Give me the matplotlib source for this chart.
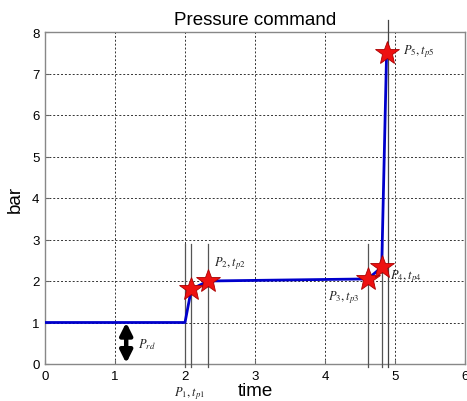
import matplotlib
matplotlib.use("Agg")
import matplotlib.pyplot as plt

# data
curve_t = [0.0, 2.0, 2.09, 2.33, 4.61, 4.81, 4.88]
curve_p = [1.0, 1.0, 1.80, 2.00, 2.05, 2.33, 7.50]
star_t = [2.09, 2.33, 4.61, 4.81, 4.88]
star_p = [1.80, 2.00, 2.05, 2.33, 7.50]
vline_t = [2.0, 2.09, 2.33, 4.61, 4.81]
vline_top = 2.88
tall_vline_t = 4.9
labels = [r'$P_1, t_{p1}$', r'$P_2, t_{p2}$', r'$P_3, t_{p3}$', r'$P_4, t_{p4}$', r'$P_5, t_{p5}$']
label_xy = [(1.85, -0.68), (2.42, 2.45), (4.05, 1.62), (4.93, 2.12), (5.12, 7.55)]
xticks = [0, 1, 2, 3, 4, 5, 6]
yticks = [0, 1, 2, 3, 4, 5, 6, 7, 8]

plt.rcParams['mathtext.fontset'] = 'stix'
plt.rcParams['font.family'] = ['Liberation Sans', 'DejaVu Sans']

fig = plt.figure(figsize=(4.67, 4.02), dpi=100)
ax = fig.add_axes([45/467, (402-365)/402, 420/467, 332/402])
ax.set_xlim(0, 6)
ax.set_ylim(0, 8)
ax.set_xticks(xticks)
ax.set_yticks(yticks)
ax.grid(True, linestyle=(0, (2, 2)), color='#333333', linewidth=0.7)
ax.tick_params(direction='in', length=3, color='#666666', labelsize=9.5, pad=4)
for s in ax.spines.values():
    s.set_color('#888888')
    s.set_linewidth(1.0)

for t in vline_t:
    ax.plot([t, t], [-0.08, vline_top], color='#555555', lw=0.9, clip_on=False, zorder=3)
ax.plot([tall_vline_t, tall_vline_t], [-0.08, 8.3], color='#444444', lw=0.9, clip_on=False, zorder=3)

ax.plot(curve_t, curve_p, color='#0000cc', lw=2.0, zorder=4)
ax.plot(star_t, star_p, linestyle='none', marker='*', markersize=18,
        markerfacecolor='#ee1111', markeredgecolor='#aa0000', markeredgewidth=0.6, zorder=5)

for lab, (x, y) in zip(labels, label_xy):
    ax.text(x, y, lab, fontsize=9, color='#222222', ha='left', va='center', clip_on=False)

ax.annotate('', xy=(1.16, 0.02), xytext=(1.16, 1.0),
            arrowprops=dict(arrowstyle='<|-|>', color='black', lw=3.2, mutation_scale=18,
                            shrinkA=0, shrinkB=0), zorder=6)
ax.text(1.33, 0.5, r'$P_{rd}$', fontsize=9, color='#222222', ha='left', va='center')

ax.set_title('Pressure command', fontsize=13.5, pad=6)
ax.set_xlabel('time', fontsize=13.5, labelpad=0)
ax.set_ylabel('bar', fontsize=13.5, labelpad=6)

fig.savefig('out.png', dpi=100)
